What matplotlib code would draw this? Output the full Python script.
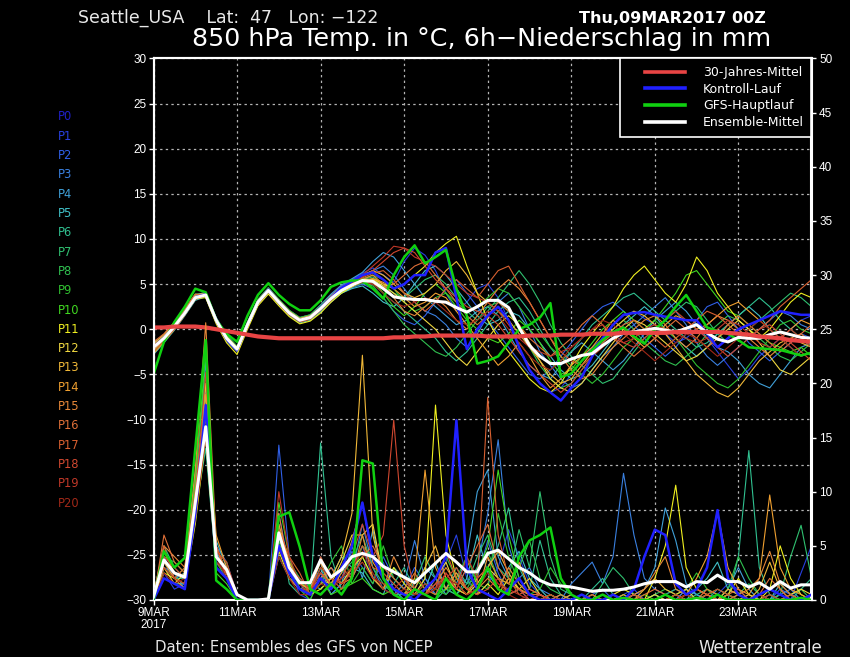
import numpy as np
import matplotlib
matplotlib.use("Agg")
import matplotlib.pyplot as plt
from matplotlib import font_manager
from matplotlib.lines import Line2D
from matplotlib.legend_handler import HandlerLine2D

# ---------------- data ----------------
hours = np.arange(0, 384, 6)          # 6-hourly forecast steps
days = hours / 24.0

temp_clim = [0.2,0.2,0.3,0.3,0.3,0.2,0.0,-0.2,-0.4,-0.6,-0.8,-0.9,-1.0,-1.0,-1.0,-1.0,
             -1.0,-1.0,-1.0,-1.0,-1.0,-1.0,-1.0,-0.9,-0.9,-0.8,-0.8,-0.7,-0.7,-0.7,-0.7,-0.7,
             -0.8,-0.8,-0.8,-0.8,-0.7,-0.7,-0.7,-0.6,-0.6,-0.6,-0.5,-0.5,-0.5,-0.4,-0.4,-0.4,
             -0.4,-0.4,-0.3,-0.3,-0.3,-0.3,-0.3,-0.4,-0.5,-0.6,-0.8,-0.9,-1.0,-1.2,-1.3,-1.4]
temp_mean = [-2.0,-1.0,0.3,1.8,3.5,3.8,1.0,-1.0,-2.2,0.5,3.0,4.3,3.0,1.8,1.0,1.3,
             2.3,3.4,4.3,4.9,5.4,5.3,4.5,3.6,3.4,3.3,3.3,3.1,3.0,2.4,1.9,2.5,
             3.2,3.2,2.4,0.2,-1.8,-3.0,-3.8,-3.8,-3.3,-2.9,-2.7,-1.8,-1.0,-0.4,-0.3,-0.1,
             0.1,-0.1,-0.3,0.1,0.5,-0.4,-1.1,-1.4,-0.9,-1.0,-1.0,-0.6,-0.3,-0.6,-0.9,-1.0]
temp_ctrl = [-2.0,-1.0,0.3,1.8,3.5,3.9,1.0,-1.1,-2.3,0.5,3.0,4.4,3.0,1.8,1.0,1.3,
             2.4,3.5,4.6,5.3,6.0,6.3,5.5,4.5,5.0,6.0,6.0,8.5,9.0,3.5,-2.2,0.0,
             1.5,2.5,1.0,-2.0,-4.5,-6.0,-7.0,-7.9,-6.5,-5.3,-3.0,-1.0,0.5,1.6,1.8,1.9,
             1.6,1.4,1.2,1.0,1.0,-0.5,-2.0,-1.0,0.0,0.5,1.0,1.5,2.0,1.8,1.6,1.6]
temp_gfs = [-5.0,-1.4,0.8,2.5,4.5,4.1,1.0,-0.5,-1.4,1.5,3.8,5.1,3.8,2.8,2.1,2.1,
            3.2,4.7,5.2,5.4,5.4,4.5,3.4,6.0,8.0,9.3,7.3,8.0,8.8,4.5,1.5,-3.8,
            -3.5,-3.0,-1.5,0.0,0.5,1.3,2.9,-5.3,-4.9,-3.5,-2.3,-1.2,-0.3,0.2,-0.8,-1.6,
            0.0,1.0,2.5,3.8,2.0,0.2,-0.2,-0.5,-1.2,-2.0,-2.1,-2.2,-2.3,-2.6,-2.9,-2.6]

temp_p01 = [-2.5,-1.3,0.0,1.6,3.3,4.0,1.2,-0.8,-2.0,0.7,3.2,4.5,3.2,2.0,1.2,1.5,
            2.6,3.8,4.8,5.5,6.2,6.8,6.0,5.2,7.5,9.0,8.2,6.5,4.0,2.0,3.0,4.5,
            5.0,3.5,1.0,-2.0,-4.5,-6.0,-7.0,-6.5,-5.0,-3.5,-2.0,-1.0,0.5,1.5,2.0,1.2,
            0.5,-0.5,-1.5,-1.0,0.0,-1.0,-2.5,-4.0,-5.5,-4.5,-3.0,-2.0,-1.0,0.0,1.0,1.5]
temp_p02 = [-1.8,-0.8,0.5,2.0,3.7,3.9,0.8,-1.3,-2.5,0.3,2.8,4.1,2.8,1.6,0.8,1.1,
            2.0,3.0,4.0,4.6,5.0,4.5,3.5,2.0,1.0,0.5,1.5,3.0,4.5,5.5,4.0,2.5,
            1.0,-0.5,-2.0,-3.5,-5.0,-5.5,-4.5,-3.0,-1.5,0.0,1.5,2.5,3.0,2.0,0.5,-1.0,
            -2.0,-3.0,-2.0,-0.5,1.0,2.5,3.0,1.5,0.0,-1.5,-2.5,-3.5,-2.5,-1.5,-0.5,-1.0]
temp_p03 = [-2.2,-1.1,0.2,1.9,3.6,3.7,1.1,-0.9,-2.1,0.6,3.1,4.4,3.1,1.9,1.1,1.4,
            2.5,3.7,4.6,5.3,6.0,6.5,7.0,6.0,4.5,3.0,2.0,1.5,0.5,-1.0,-2.0,-0.5,
            1.5,3.0,4.0,2.5,0.0,-2.5,-4.0,-5.5,-6.5,-6.0,-4.5,-3.0,-2.0,-0.5,0.5,1.5,
            2.5,3.5,2.0,0.5,-1.5,-3.0,-4.0,-3.0,-2.0,-1.0,0.0,1.0,2.0,1.5,0.5,0.0]
temp_p04 = [-1.5,-0.7,0.6,2.1,3.8,4.1,1.3,-0.6,-1.9,0.8,3.3,4.6,3.3,2.1,1.3,1.6,
            2.7,3.9,4.9,5.6,6.3,7.5,8.5,8.0,6.5,5.0,3.5,2.5,1.5,0.5,1.0,2.0,
            2.5,1.5,-0.5,-2.5,-4.0,-5.0,-5.5,-4.0,-2.5,-1.5,-2.5,-3.5,-4.5,-3.5,-2.0,-0.5,
            1.0,2.0,3.0,2.0,0.5,-1.0,-2.0,-2.5,-3.5,-5.0,-6.0,-6.5,-5.0,-3.5,-2.0,-1.5]
temp_p05 = [-2.8,-1.5,-0.1,1.5,3.2,3.6,0.9,-1.2,-2.4,0.2,2.7,4.0,2.7,1.5,0.7,1.0,
            1.9,3.1,4.0,4.5,4.8,4.0,3.0,2.5,3.5,5.0,6.5,7.0,6.0,4.5,3.0,1.5,
            0.5,1.0,2.0,1.5,0.0,-1.5,-3.0,-4.5,-5.5,-5.0,-4.0,-2.5,-1.0,0.5,1.5,2.5,
            1.5,0.0,-1.0,-2.0,-3.0,-2.0,-0.5,0.5,1.5,2.5,1.5,0.0,-1.0,-2.0,-3.0,-2.5]
temp_p06 = [-1.7,-0.6,0.7,2.2,3.9,3.9,0.9,-1.1,-2.3,0.4,2.9,4.2,2.9,1.7,0.9,1.2,
            2.2,3.3,4.2,4.8,5.2,5.0,4.0,3.0,2.0,1.0,0.0,-1.0,-2.5,-3.5,-2.5,-1.0,
            0.5,2.0,3.0,3.5,2.0,0.0,-2.0,-3.5,-2.5,-1.0,0.5,1.5,2.5,3.5,4.0,3.0,
            2.0,1.0,0.0,-1.0,-2.0,-1.5,-0.5,0.5,1.5,2.5,3.5,2.5,1.0,0.0,-1.0,-2.0]
temp_p07 = [-2.4,-1.2,0.1,1.7,3.4,3.8,1.0,-1.0,-2.2,0.5,3.0,4.3,3.0,1.8,1.0,1.3,
            2.3,3.5,4.4,5.0,5.5,5.8,5.0,4.0,3.5,4.5,5.5,6.0,5.0,3.5,2.0,1.0,
            2.0,3.5,5.0,6.5,5.0,3.0,0.5,-1.5,-3.0,-4.0,-5.0,-6.0,-5.5,-4.0,-2.5,-1.0,
            0.0,1.0,2.0,3.0,2.5,1.0,-0.5,-1.5,-1.0,0.0,1.0,2.0,3.0,4.0,3.5,2.5]
temp_p08 = [-2.0,-0.9,0.4,1.9,3.6,3.6,0.8,-1.2,-2.4,0.3,2.8,4.1,2.8,1.6,0.8,1.1,
            2.1,3.2,4.1,4.7,5.1,4.8,3.5,2.0,0.5,-0.5,-1.5,-2.5,-3.0,-2.0,-0.5,1.0,
            2.5,3.0,2.0,0.0,-2.0,-4.0,-5.5,-6.5,-6.0,-4.5,-3.0,-1.5,0.0,1.0,0.0,-1.5,
            -2.5,-3.5,-4.0,-3.0,-2.0,-0.5,0.5,1.5,1.0,0.0,-1.0,-2.0,-3.0,-3.5,-2.5,-1.5]
temp_p09 = [-2.6,-1.4,0.0,1.6,3.3,3.9,1.2,-0.7,-1.9,0.8,3.3,4.6,3.3,2.1,1.3,1.6,
            2.6,3.7,4.6,5.2,5.6,6.0,5.5,4.5,3.0,2.0,2.5,3.5,4.0,3.0,2.0,2.5,
            3.5,4.5,4.0,2.5,1.0,-0.5,-2.0,-3.0,-4.0,-5.0,-6.0,-5.0,-3.5,-2.0,-1.0,0.0,
            1.0,0.0,-1.0,-2.5,-4.0,-5.0,-6.0,-6.5,-5.5,-4.0,-2.5,-1.0,0.5,1.0,0.0,-0.5]
temp_p10 = [-1.9,-0.9,0.4,1.9,3.6,3.7,0.9,-1.0,-2.2,0.5,3.0,4.3,3.0,1.8,1.0,1.3,
            2.4,3.6,4.5,5.1,5.6,5.5,4.0,2.5,1.5,2.5,4.0,5.0,4.0,2.5,1.0,0.0,
            -1.0,-1.5,-0.5,1.0,0.0,-1.5,-3.5,-5.0,-4.5,-3.0,-1.5,0.0,1.0,2.0,1.0,0.0,
            1.0,2.5,4.0,6.0,6.5,5.0,3.5,2.0,1.5,0.5,-0.5,-1.5,-2.0,-2.5,-2.0,-3.0]
temp_p11 = [-2.1,-1.0,0.3,1.8,3.4,3.5,0.6,-1.5,-2.8,0.0,2.6,3.9,2.6,1.4,0.6,0.9,
            1.8,3.0,4.0,4.7,5.3,5.6,5.0,4.5,5.0,6.0,7.0,8.5,9.5,10.3,7.0,4.0,
            1.0,-1.0,-2.5,-4.0,-5.5,-6.5,-7.0,-6.0,-4.0,-2.0,-0.5,1.0,2.5,4.5,6.0,7.0,
            5.5,4.0,3.0,5.0,8.0,6.5,4.0,2.5,1.0,0.0,-1.0,0.0,1.5,3.0,4.0,3.5]
temp_p12 = [-2.3,-1.2,0.1,1.7,3.5,3.9,1.1,-0.9,-2.1,0.6,3.1,4.4,3.1,1.9,1.1,1.4,
            2.4,3.5,4.4,5.0,5.5,5.5,4.8,4.0,3.0,2.0,1.0,0.0,-1.5,-3.0,-4.0,-2.5,
            -1.0,0.5,1.5,0.5,-1.5,-3.5,-5.5,-6.5,-7.0,-6.0,-4.5,-3.0,-1.5,0.0,1.0,0.5,
            -0.5,-1.5,-2.5,-3.5,-3.0,-2.0,-1.0,0.0,1.0,0.0,-1.5,-3.0,-4.5,-5.0,-4.0,-3.0]
temp_p13 = [-1.6,-0.6,0.7,2.2,3.8,4.0,1.2,-0.8,-2.0,0.7,3.2,4.5,3.2,2.0,1.2,1.5,
            2.5,3.7,4.7,5.4,6.0,6.5,6.0,5.0,4.0,3.5,4.0,5.0,6.5,7.5,6.0,4.0,
            3.0,2.0,1.0,-0.5,-2.0,-3.5,-5.0,-6.0,-5.5,-4.0,-2.5,-1.0,0.0,1.0,2.0,1.5,
            0.5,-0.5,-2.0,-3.5,-5.0,-6.0,-7.0,-7.5,-6.5,-5.0,-3.5,-2.5,-1.5,-1.0,-1.5,-2.0]
temp_p14 = [-2.7,-1.4,0.0,1.6,3.3,3.7,0.9,-1.1,-2.3,0.4,2.9,4.2,2.9,1.7,0.9,1.2,
            2.2,3.4,4.3,4.9,5.4,5.6,5.2,4.5,3.5,2.5,3.0,4.0,3.5,2.0,0.5,-1.0,
            -2.5,-4.0,-3.0,-1.5,-3.0,-5.0,-6.5,-5.5,-4.0,-3.0,-2.0,-0.5,1.0,0.0,-1.0,-2.0,
            -1.0,0.5,1.5,1.0,0.0,0.5,1.5,2.5,3.0,2.0,1.0,0.0,-1.0,0.0,1.0,0.5]
temp_p15 = [-2.0,-1.0,0.4,1.9,3.6,3.8,1.0,-1.0,-2.2,0.5,3.0,4.3,3.0,1.8,1.0,1.3,
            2.3,3.4,4.3,4.9,5.5,6.0,5.0,3.5,2.0,1.5,2.5,3.5,2.5,1.0,0.0,1.5,
            3.0,4.5,5.5,4.5,3.0,1.0,-1.0,-3.0,-4.5,-5.5,-5.0,-3.5,-2.0,-1.0,0.0,1.0,
            1.5,0.5,-1.0,-2.0,-1.0,0.5,1.5,1.0,0.0,-1.0,-2.0,-3.0,-2.0,-1.0,-0.5,-1.5]
temp_p16 = [-1.4,-0.5,0.8,2.3,3.9,3.8,0.9,-1.0,-2.2,0.5,3.0,4.3,3.0,1.8,1.0,1.3,
            2.2,3.3,4.2,4.8,5.3,5.0,4.5,5.0,6.0,7.0,7.5,6.0,4.5,3.0,1.5,0.5,
            1.5,3.0,2.0,0.5,-1.0,-2.0,-3.0,-2.0,-1.0,0.5,1.5,0.5,-1.0,-2.0,-3.0,-2.0,
            -1.0,0.0,1.0,0.0,-1.0,-2.0,-1.0,0.5,1.5,0.5,-0.5,-1.5,-2.5,-1.5,-0.5,0.5]
temp_p17 = [-2.5,-1.3,0.0,1.6,3.4,3.8,1.0,-0.9,-2.1,0.6,3.1,4.4,3.1,1.9,1.1,1.4,
            2.4,3.6,4.5,5.1,5.7,6.2,6.5,5.5,4.0,3.0,2.0,3.0,4.5,5.5,4.5,3.5,
            5.0,6.5,7.0,5.0,3.0,1.0,-1.0,-2.5,-3.5,-4.0,-3.0,-1.5,-0.5,0.5,1.0,0.0,
            -1.0,-2.0,-1.0,0.0,1.0,2.0,1.5,0.5,-0.5,-1.0,0.0,1.0,2.5,3.5,4.5,5.5]
temp_p18 = [-1.8,-0.8,0.5,2.0,3.6,3.7,0.8,-1.2,-2.4,0.3,2.8,4.1,2.8,1.6,0.8,1.1,
            2.1,3.2,4.3,5.0,5.8,6.5,7.5,8.5,9.0,8.5,7.0,5.5,4.5,3.5,2.5,2.0,
            1.5,0.5,-1.0,-2.5,-4.0,-5.0,-6.0,-7.0,-6.0,-4.5,-3.0,-2.0,-1.0,-1.5,-2.0,-1.0,
            0.0,1.0,2.0,1.0,0.0,-1.0,-2.0,-3.0,-2.0,-1.0,0.0,0.5,-0.5,-1.5,-2.5,-3.5]
temp_p19 = [-2.2,-1.1,0.2,1.8,3.5,3.8,1.0,-1.0,-2.2,0.5,3.0,4.3,3.0,1.8,1.0,1.3,
            2.3,3.4,4.4,5.2,6.0,7.0,8.0,9.2,9.0,8.0,7.5,7.0,6.0,5.0,4.0,3.5,
            3.0,2.0,0.5,-1.0,-2.0,-2.5,-3.0,-2.5,-2.0,-1.0,0.0,0.5,-0.5,-1.5,-1.0,0.0,
            0.5,0.0,-0.5,-1.0,-1.5,-1.0,0.0,1.0,0.5,-0.5,-1.5,-2.0,-1.0,0.0,-1.0,-2.0]
temp_p20 = [-2.0,-1.0,0.3,1.8,3.5,3.7,1.0,-1.0,-2.2,0.5,3.0,4.3,3.0,1.8,1.0,1.3,
            2.3,3.4,4.3,4.8,5.2,5.0,4.0,3.0,2.5,3.0,3.5,3.0,2.0,1.0,0.5,1.0,
            2.0,1.5,0.0,-1.5,-3.0,-4.0,-4.5,-3.5,-2.0,-1.0,0.0,1.0,0.5,-0.5,-1.5,-2.5,
            -3.5,-2.5,-1.5,-0.5,-1.0,-2.0,-3.0,-2.0,-1.0,0.0,1.0,0.0,-1.0,-2.0,-3.0,-2.5]

prec_mean = [0.3,3.7,2.5,2.1,9.0,16.0,4.0,2.8,0.5,0.0,0.0,0.1,6.2,3.0,1.6,1.6,
             3.7,2.1,2.8,4.0,4.3,4.0,3.1,2.6,2.1,1.6,2.5,3.4,4.3,3.5,2.6,2.6,
             4.3,4.6,3.8,3.0,2.5,1.8,1.4,1.3,1.2,1.0,0.8,0.9,0.9,1.0,1.2,1.5,
             1.7,1.7,1.7,1.2,1.7,1.6,2.3,1.7,1.7,1.2,1.6,1.0,1.7,1.1,1.4,1.4]
prec_ctrl = [0.0,2.0,1.5,1.0,8.0,18.0,3.0,2.0,0.0,0.0,0.0,0.0,5.0,2.5,1.0,0.5,
             2.0,1.0,3.0,5.0,9.0,4.0,2.0,1.0,0.5,0.0,1.0,2.0,4.0,16.6,3.0,1.0,
             0.5,0.0,1.0,2.0,0.5,0.0,0.0,0.0,0.0,0.5,0.0,0.0,0.5,0.0,1.0,4.0,
             6.5,6.0,1.5,0.5,1.0,3.0,8.3,2.0,0.5,0.0,0.5,1.0,0.5,0.0,0.0,0.5]
prec_gfs = [0.0,4.5,3.0,3.9,14.0,24.0,1.8,1.0,0.0,0.0,0.0,0.0,7.7,8.1,4.9,1.0,
            0.5,1.5,0.5,2.0,12.9,12.6,2.0,0.5,0.0,1.0,0.5,0.0,2.0,0.5,0.0,1.0,
            3.0,1.0,0.5,4.0,5.5,6.0,6.7,2.0,0.5,0.0,0.0,0.5,0.0,0.2,0.0,0.0,
            0.0,0.5,0.0,0.0,0.2,0.0,0.5,0.0,0.0,0.0,0.0,0.0,0.0,0.0,0.2,0.0]

prec_p01 = [0.0,2.5,1.0,1.5,10.0,18.0,4.0,2.0,0.5,0.0,0.0,0.0,8.0,3.0,0.5,0.0,
            2.5,0.5,1.5,3.0,5.0,2.0,3.5,1.0,0.0,0.5,2.0,1.0,3.5,6.0,2.0,0.5,
            1.5,3.0,6.5,4.0,1.5,0.5,0.0,0.0,0.5,0.0,0.0,0.0,0.0,0.5,1.0,0.0,
            0.0,0.5,1.0,0.5,0.0,0.0,0.5,1.5,1.0,0.0,0.0,0.5,0.0,0.0,2.5,5.0]
prec_p02 = [0.5,4.0,2.0,2.0,9.0,15.0,5.0,3.5,0.5,0.0,0.0,0.0,14.3,4.0,1.0,0.5,
            1.5,3.0,2.0,4.5,3.0,1.5,4.0,2.0,1.0,3.0,1.5,0.5,2.0,1.0,3.0,2.0,
            5.5,2.5,0.5,1.0,0.0,0.5,0.0,0.0,0.0,0.0,0.5,1.0,0.0,0.0,0.5,0.0,
            0.5,0.0,0.0,1.0,0.5,0.0,0.0,0.5,0.0,0.0,0.0,0.0,1.0,0.5,0.0,0.0]
prec_p03 = [0.0,3.0,2.5,1.0,8.0,20.0,3.0,2.0,0.0,0.0,0.0,0.0,6.0,2.5,1.5,0.5,
            4.0,1.0,2.0,2.5,7.0,3.0,1.0,0.5,1.5,5.5,2.0,0.5,1.0,2.5,1.5,3.0,
            8.0,14.8,5.0,2.0,3.0,1.0,0.5,0.0,1.5,2.5,3.5,1.5,4.0,11.7,6.0,2.0,
            1.0,0.5,0.0,1.0,0.5,0.0,1.0,0.5,0.0,0.0,0.5,0.0,0.5,1.0,0.0,0.0]
prec_p04 = [0.0,3.5,2.0,2.5,11.0,22.0,4.5,2.5,0.0,0.0,0.0,0.0,5.0,3.5,2.0,1.0,
            3.0,0.5,1.5,5.0,2.0,6.5,2.0,1.0,0.0,1.0,3.0,2.0,0.5,1.5,4.0,10.0,
            12.0,4.0,2.0,1.0,0.5,0.0,0.0,0.5,0.0,0.0,0.0,0.0,0.5,0.0,0.5,1.0,
            3.0,8.5,5.5,1.5,0.5,0.0,0.0,1.0,3.0,1.0,0.0,0.0,0.5,0.0,0.0,0.0]
prec_p05 = [0.0,2.0,1.5,1.5,9.0,16.0,5.5,3.0,0.5,0.0,0.0,0.0,4.0,2.0,1.0,1.5,
            1.0,2.0,4.0,3.0,2.5,1.0,0.5,3.0,2.0,0.5,1.0,3.5,1.0,0.5,2.0,6.0,
            2.5,1.0,3.0,4.5,2.0,1.0,0.0,0.0,0.0,0.5,0.0,0.0,0.0,0.0,0.5,0.0,
            0.0,0.0,0.5,0.0,1.0,2.0,3.5,1.0,0.5,0.0,0.0,0.0,1.5,0.5,0.0,0.0]
prec_p06 = [0.5,5.0,3.0,2.0,8.0,14.0,3.0,2.0,0.5,0.0,0.0,0.0,7.0,1.5,0.5,0.5,
            14.5,4.0,1.0,2.0,4.0,2.0,1.0,1.5,3.0,1.0,0.5,0.0,1.0,3.0,1.5,2.0,
            3.0,5.0,8.5,3.0,1.0,5.5,2.0,0.5,0.0,0.0,1.0,2.0,0.5,0.0,0.0,0.0,
            0.5,0.0,0.0,0.0,0.5,1.0,0.5,0.0,4.0,13.8,3.0,0.5,0.0,0.0,1.0,2.0]
prec_p07 = [0.0,3.0,2.0,2.0,10.0,19.0,4.0,3.0,0.5,0.0,0.0,0.0,6.0,2.0,1.0,0.5,
            3.0,1.5,2.5,3.5,6.0,3.0,1.5,0.5,0.5,1.5,4.0,2.0,1.0,0.5,1.5,4.0,
            6.0,3.0,2.0,6.5,3.0,10.0,4.0,1.0,0.5,0.0,0.0,1.5,3.0,2.0,0.5,0.0,
            0.0,0.5,1.0,0.5,0.0,0.5,0.0,0.0,0.5,1.5,0.5,0.0,0.5,4.0,6.9,2.0]
prec_p08 = [0.0,4.0,3.5,2.5,12.0,21.0,3.5,2.0,0.0,0.0,0.0,0.0,5.5,2.0,1.5,1.0,
            2.0,1.0,3.0,2.0,5.0,4.0,2.0,1.0,0.5,0.5,1.0,2.0,4.0,2.0,1.0,3.0,
            4.5,2.0,1.5,3.0,5.5,2.0,1.0,0.5,0.0,0.0,0.0,0.0,0.0,0.5,0.0,0.0,
            0.5,1.0,0.5,0.0,0.0,0.0,0.0,1.0,4.0,2.0,0.5,0.0,0.0,0.5,1.0,0.0]
prec_p09 = [0.5,3.0,2.0,3.0,9.5,17.0,4.5,3.5,0.0,0.0,0.0,0.0,6.5,3.5,2.0,0.5,
            1.5,3.5,5.0,1.5,3.0,1.5,5.0,2.0,1.0,0.5,1.5,1.0,0.5,2.0,4.0,1.5,
            1.0,8.0,4.0,1.5,0.5,1.0,3.0,1.5,0.5,0.0,0.0,0.0,0.5,0.0,0.0,0.0,
            0.0,0.0,0.5,1.0,2.5,1.0,0.0,0.5,0.0,0.0,0.0,0.5,0.0,0.0,0.0,0.5]
prec_p10 = [0.0,3.5,2.5,2.0,11.0,23.0,2.5,1.5,0.0,0.0,0.0,0.0,9.0,4.0,1.0,0.0,
            2.0,0.5,1.0,1.5,2.0,1.0,0.5,1.0,0.5,2.0,1.0,0.5,1.0,1.5,0.5,2.5,
            5.0,12.0,6.0,2.0,0.5,0.0,0.5,0.0,0.0,0.0,0.0,0.0,0.0,0.0,0.0,0.5,
            0.0,0.0,0.0,0.0,0.0,0.5,1.0,0.5,0.0,0.0,0.5,0.0,0.0,0.0,0.0,0.0]
prec_p11 = [0.0,2.5,2.0,1.5,7.0,15.0,3.0,2.0,0.5,0.0,0.0,0.0,4.5,2.0,1.0,0.5,
            1.0,2.0,1.5,3.0,4.0,2.0,1.0,3.0,1.5,0.5,2.0,18.0,6.0,2.0,1.0,0.5,
            1.5,0.5,2.0,1.0,0.5,0.0,0.5,0.0,0.0,0.0,0.0,0.0,0.5,1.0,0.5,0.0,
            2.0,5.0,10.6,3.0,1.0,0.5,0.0,0.5,2.0,0.5,0.0,1.0,5.0,2.0,0.5,0.0]
prec_p12 = [0.0,3.0,1.5,2.5,9.0,18.0,5.0,2.5,0.0,0.0,0.0,0.0,5.0,3.0,1.5,1.0,
            2.5,1.5,3.5,6.0,6.0,7.0,2.0,1.0,0.5,1.0,0.5,2.0,3.5,1.0,0.5,1.5,
            3.0,2.0,0.5,1.0,2.0,0.5,0.0,0.0,0.0,0.0,0.5,0.0,0.0,0.0,0.0,0.0,
            0.5,0.0,0.5,1.0,0.0,0.0,0.5,0.0,0.0,0.5,0.0,0.0,0.0,0.5,1.0,0.5]
prec_p13 = [0.5,4.5,2.5,2.0,10.0,20.0,3.5,2.5,0.0,0.0,0.0,0.0,6.0,2.5,1.0,0.5,
            1.5,2.0,4.0,8.0,22.6,6.0,2.0,1.0,0.5,1.0,3.0,5.0,2.0,1.0,0.5,2.0,
            3.0,4.5,2.5,1.0,0.5,0.0,0.0,0.0,0.5,0.0,0.0,0.5,0.0,0.0,0.0,1.0,
            2.0,1.0,0.5,0.0,0.0,0.5,0.0,1.0,0.5,0.0,1.0,3.5,1.0,0.0,0.0,0.5]
prec_p14 = [0.0,3.5,2.0,1.0,8.5,19.0,6.0,3.0,0.5,0.0,0.0,0.0,7.0,3.5,1.5,1.0,
            3.5,1.0,2.5,5.5,9.0,3.5,2.0,1.0,0.5,2.0,12.0,3.0,1.0,2.5,1.0,0.5,
            4.0,2.0,1.5,3.5,1.0,0.5,0.0,0.0,0.0,0.0,0.0,0.0,0.0,0.5,0.0,0.0,
            0.0,0.5,0.0,0.5,2.0,4.0,8.2,3.0,1.0,0.5,2.0,9.7,3.0,1.0,0.5,0.0]
prec_p15 = [0.5,5.0,4.0,3.0,12.0,25.6,5.0,2.0,0.0,0.0,0.0,0.0,8.0,2.5,1.0,0.5,
            2.0,3.0,1.5,2.0,6.0,2.0,1.0,4.0,2.0,1.0,0.5,1.5,3.0,1.5,0.5,1.0,
            2.0,1.0,3.0,1.5,0.5,0.0,0.0,0.5,0.0,0.0,0.0,0.0,0.0,0.0,0.5,1.0,
            2.5,4.0,1.0,0.5,0.0,1.0,0.5,0.0,0.5,1.0,2.0,4.5,1.5,0.5,0.0,0.0]
prec_p16 = [0.0,6.0,3.5,2.5,9.0,17.0,4.0,3.0,0.5,0.0,0.0,0.0,5.0,2.0,1.0,1.0,
            2.0,1.0,3.0,2.0,4.0,5.0,3.0,2.0,1.0,2.5,1.0,0.5,2.5,1.0,3.0,5.0,
            7.0,3.0,1.5,1.0,0.5,0.5,0.0,0.0,0.0,0.0,0.0,0.0,0.0,0.0,0.0,0.5,
            1.0,0.5,0.0,0.5,1.0,0.5,0.0,0.5,1.0,0.0,0.5,2.0,1.0,0.0,0.0,0.0]
prec_p17 = [0.0,5.0,2.0,3.0,10.0,18.0,5.0,2.5,0.0,0.0,0.0,0.0,6.5,4.0,2.5,0.5,
            4.0,2.0,1.0,3.0,5.0,3.0,2.5,1.5,0.5,1.0,0.5,1.0,4.5,2.0,1.0,1.5,
            18.7,6.0,2.0,0.5,1.0,0.5,0.0,0.0,0.0,0.0,0.5,0.0,0.0,0.0,0.0,0.0,
            0.0,0.0,0.0,0.5,1.0,0.5,0.0,0.0,0.0,0.0,0.5,0.0,0.0,0.5,0.0,0.0]
prec_p18 = [0.0,4.0,3.0,2.0,9.0,21.0,4.5,3.5,0.5,0.0,0.0,0.0,5.0,3.0,2.0,1.0,
            2.5,1.5,2.0,4.0,7.0,4.0,6.0,16.6,5.0,1.0,0.5,1.5,2.0,3.0,1.0,0.5,
            1.0,2.0,0.5,1.0,0.0,0.5,0.0,0.0,0.0,0.5,0.0,0.0,0.0,0.0,0.5,0.0,
            0.0,0.5,0.0,0.0,0.0,0.5,1.0,0.5,0.0,0.0,0.0,0.5,0.0,0.0,0.0,0.0]
prec_p19 = [0.5,3.0,2.0,1.5,8.0,16.0,3.5,2.5,0.0,0.0,0.0,0.0,10.0,4.0,1.5,0.5,
            3.0,2.0,1.5,2.5,3.5,2.0,1.5,1.0,2.0,0.5,1.5,1.0,2.5,1.0,4.0,2.0,
            3.0,1.5,1.0,0.5,0.0,0.0,0.5,0.0,0.0,0.0,0.0,0.0,0.0,0.0,0.0,0.0,
            0.0,0.0,0.5,0.0,0.0,0.0,0.5,0.0,0.0,0.0,0.5,0.0,0.0,0.0,0.0,0.0]
prec_p20 = [0.0,2.5,1.5,2.0,7.5,15.0,4.0,2.0,0.0,0.0,0.0,0.0,4.0,2.0,0.5,0.5,
            1.5,1.0,2.0,3.0,4.5,2.5,1.0,0.5,1.0,0.5,0.5,1.0,2.0,1.5,0.5,1.0,
            2.5,1.5,0.5,0.0,0.5,0.0,0.0,0.0,0.0,0.0,0.0,0.0,0.0,0.0,0.0,0.0,
            0.0,0.0,0.0,0.5,0.0,0.0,0.0,0.0,0.0,0.0,0.0,0.0,0.0,0.0,0.0,0.0]

member_labels = ["P0","P1","P2","P3","P4","P5","P6","P7","P8","P9","P10",
                 "P11","P12","P13","P14","P15","P16","P17","P18","P19","P20"]
member_colors = ["#2020c8","#2840e0","#3060e8","#3a80e0","#40a0d8","#40c0c8",
                 "#30c090","#30c070","#30c050","#30c030","#40d820",
                 "#f0f020","#f0d840","#f0b838","#f0a030","#e88838",
                 "#e07038","#d86030","#d04830","#c03828","#a02818"]

temp_members = [temp_p01,temp_p02,temp_p03,temp_p04,temp_p05,temp_p06,temp_p07,
                temp_p08,temp_p09,temp_p10,temp_p11,temp_p12,temp_p13,temp_p14,
                temp_p15,temp_p16,temp_p17,temp_p18,temp_p19,temp_p20]
prec_members = [prec_p01,prec_p02,prec_p03,prec_p04,prec_p05,prec_p06,prec_p07,
                prec_p08,prec_p09,prec_p10,prec_p11,prec_p12,prec_p13,prec_p14,
                prec_p15,prec_p16,prec_p17,prec_p18,prec_p19,prec_p20]

xtick_days = [0, 2, 4, 6, 8, 10, 12, 14]
xtick_labels = ["9MAR\n2017","11MAR","13MAR","15MAR","17MAR","19MAR","21MAR","23MAR"]
temp_ticks = list(range(-30, 31, 5))
prec_ticks = list(range(0, 51, 5))

legend_labels = ["30-Jahres-Mittel", "Kontroll-Lauf", "GFS-Hauptlauf", "Ensemble-Mittel"]

# ---------------- fonts ----------------
avail = {f.name for f in font_manager.fontManager.ttflist}
tick_font = "Liberation Sans Narrow" if "Liberation Sans Narrow" in avail else "Liberation Sans"

# ---------------- figure ----------------
W, H = 850, 657
fig = plt.figure(figsize=(W/100, H/100), dpi=100, facecolor="black")
L, R, T, B = 153.5, 811.5, 58.5, 600
ax = fig.add_axes([L/W, 1-B/H, (R-L)/W, (B-T)/H])
ax.set_facecolor("black")
ax2 = ax.twinx()
ax2.patch.set_visible(False)

CLIM_C, CTRL_C, GFS_C = "#e84444", "#2020ff", "#10d010"

# precipitation (right axis)
for vals, col in zip(prec_members, member_colors[1:]):
    ax2.plot(days, vals, color=col, lw=0.8, zorder=2)
ax2.plot(days, prec_ctrl, color=CTRL_C, lw=1.8, zorder=3)
ax2.plot(days, prec_gfs, color=GFS_C, lw=1.8, zorder=3)
ax2.plot(days, prec_mean, color="white", lw=2.2, zorder=4)

# temperature (left axis)
for vals, col in zip(temp_members, member_colors[1:]):
    ax.plot(days, vals, color=col, lw=0.8, zorder=2)
h_ctrl, = ax.plot(days, temp_ctrl, color=CTRL_C, lw=1.8, zorder=3)
h_gfs, = ax.plot(days, temp_gfs, color=GFS_C, lw=1.8, zorder=3)
h_mean, = ax.plot(days, temp_mean, color="white", lw=2.2, zorder=4)
h_clim, = ax.plot(days, temp_clim, color=CLIM_C, lw=3.0, zorder=5)

# axes setup
ax.set_xlim(0, 15.75)
ax.set_ylim(-30, 30)
ax2.set_ylim(0, 50)
ax.set_yticks(temp_ticks)
ax2.set_yticks(prec_ticks)
ax.set_xticks(xtick_days)
ax.set_xticklabels(xtick_labels)
ax.set_yticklabels([str(v).replace("-", "\u2212") for v in temp_ticks])
ax2.set_yticklabels([str(v) for v in prec_ticks])

ax.grid(True, color="#b4b4b4", lw=0.9, linestyle=(0, (1.9, 2.6)))
ax.set_axisbelow(True)

for a in (ax, ax2):
    for s in a.spines.values():
        s.set_color("white")
        s.set_linewidth(1.5)
ax.tick_params(axis="both", colors="white", direction="out", length=3.5, width=1.0,
               labelsize=8.5, pad=1.5)
ax2.tick_params(axis="y", colors="white", direction="out", length=3.5, width=1.0,
                labelsize=8.5, pad=2)
for lab in ax.get_xticklabels() + ax.get_yticklabels() + ax2.get_yticklabels():
    lab.set_family(tick_font)
    lab.set_color("white")
for lab in ax.get_xticklabels():
    lab.set_linespacing(1.05)

# legend
leg_fs = 9
leg = ax2.legend([h_clim, h_ctrl, h_gfs, h_mean], legend_labels, loc="upper right",
                 bbox_to_anchor=(1, 1), borderaxespad=0, frameon=True, fancybox=False,
                 facecolor="black", edgecolor="white", framealpha=1,
                 handlelength=5.9, handletextpad=0.1, borderpad=0.6, labelspacing=0.3,
                 handler_map={Line2D: HandlerLine2D(numpoints=2, marker_pad=1.36)},
                 prop={"family": "DejaVu Sans", "size": leg_fs})
leg.get_frame().set_linewidth(1.2)
for t in leg.get_texts():
    t.set_color("white")
for ln in leg.get_lines():
    ln.set_linewidth(2.6)
leg.set_zorder(10)

# member labels on the left
for k, (lab, col) in enumerate(zip(member_labels, member_colors)):
    fig.text(58/W, 1-(116.7+19.33*k)/H, lab, color=col, fontsize=8.3,
             family="DejaVu Sans", va="center", ha="left")

# titles
fig.text(78/W, 1-23/H, "Seattle_USA    Lat:  47   Lon: \u2212122", color="#e8e8e8",
         fontsize=12.5, family="DejaVu Sans", ha="left", va="baseline")
fig.text(766/W, 1-23/H, "Thu,09MAR2017 00Z", color="white", fontsize=11.5,
         fontweight="bold", family="DejaVu Sans", ha="right", va="baseline")
fig.text(482/W, 1-46/H, "850 hPa Temp. in \u00b0C, 6h\u2212Niederschlag in mm", color="white",
         fontsize=18.3, family="DejaVu Sans", ha="center", va="baseline")
fig.text(155/W, 1-648/H, "Daten: Ensembles des GFS von NCEP", color="#e8e8e8",
         fontsize=10.7, family="DejaVu Sans", ha="left", va="center")
fig.text(822/W, 1-648/H, "Wetterzentrale", color="#e8e8e8",
         fontsize=12, family="DejaVu Sans", ha="right", va="center")

fig.savefig("out.png", dpi=100, facecolor="black")
